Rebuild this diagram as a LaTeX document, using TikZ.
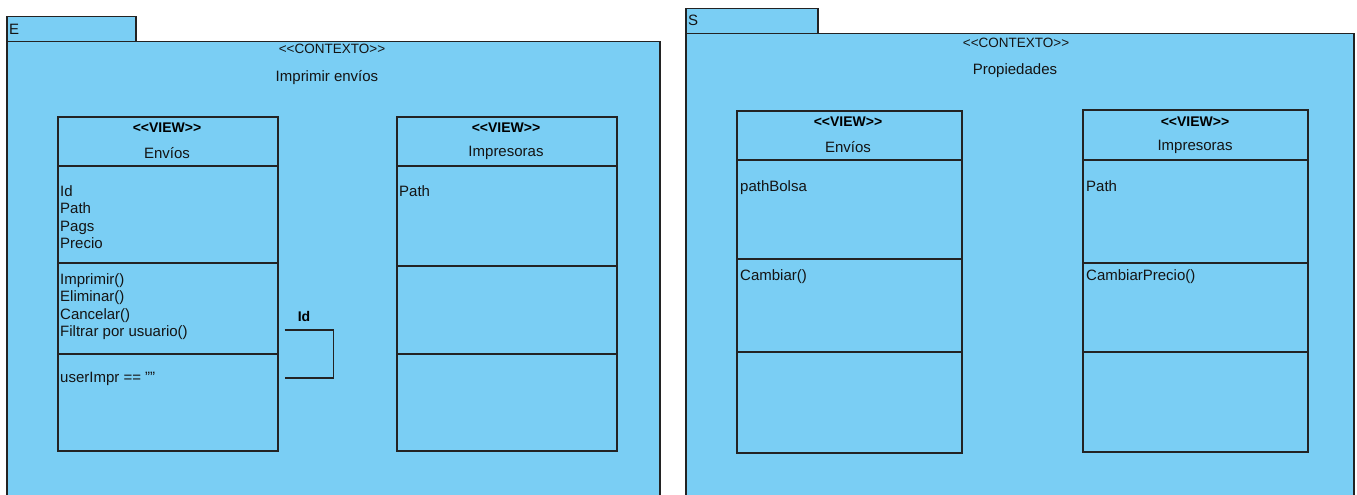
\documentclass[tikz,border=0pt]{standalone}
\usepackage{fontspec}
\setmainfont{Liberation Sans}
\definecolor{pk}{RGB}{122,206,244}
\definecolor{ln}{RGB}{35,35,35}
\definecolor{tx}{RGB}{20,20,20}
\newcommand{\ltlt}{{<}{<}}
\newcommand{\gtgt}{{>}{>}}
\begin{document}
\begin{tikzpicture}[x=1pt,y=-1pt,
  box/.style={draw=ln, fill=pk, line width=1.5pt, inner sep=0, anchor=north west},
  txt/.style={inner sep=0, anchor=north west, align=left, text=tx, font=\fontsize{15}{17.5}\selectfont},
  ctr/.style={inner sep=0, text=tx, font=\fontsize{15}{17.5}\selectfont},
  stereo/.style={inner sep=0, text=tx, font=\fontsize{13.5}{16}\selectfont},
  view/.style={inner sep=0, text=black, font=\bfseries\fontsize{14}{16}\selectfont},
  sep/.style={draw=ln, line width=1.5pt},
  conn/.style={draw=ln, line width=1.5pt}]
\useasboundingbox (0,0) rectangle (1357,495);
% ---------- package E ----------
\node[box, minimum width=653, minimum height=470] (bodyE) at (6,41) {};
\node[box, minimum width=129, minimum height=25] (tabE) at (6,16) {};
\node[ctr, anchor=west] (lblE) at (9,29) {E};
\node[stereo] (stE) at (332,49) {\ltlt CONTEXTO\gtgt};
\node[ctr] (nmE) at (327,78) {Imprimir envíos};
% class Envios (left)
\node[box, minimum width=220, minimum height=334] (envL) at (57,116) {};
\draw[sep] ([yshift=-50pt]envL.north west) -- ([yshift=-50pt]envL.north east);
\draw[sep] ([yshift=-147pt]envL.north west) -- ([yshift=-147pt]envL.north east);
\draw[sep] ([yshift=-238pt]envL.north west) -- ([yshift=-238pt]envL.north east);
\node[view] (envLv) at (167,128) {\ltlt VIEW\gtgt};
\node[ctr] (envLn) at (167,153) {Envíos};
\node[txt] (envLa) at (60,185) {Id\\Path\\Pags\\Precio};
\node[txt] (envLm) at (60,273) {Imprimir()\\Eliminar()\\Cancelar()\\Filtrar por usuario()};
\node[txt] (envLc) at (60,372) {userImpr == "{}"};
% self loop
\coordinate (la) at ([shift={(6,46)}]envL.east);
\coordinate (lb) at ([shift={(6,94)}]envL.east);
\draw[conn] (la) -- ++(49,0) |- (lb);
\node[view] (idlbl) at (304,316) {Id};
% class Impresoras (left)
\node[box, minimum width=220, minimum height=334] (impL) at (396,116) {};
\draw[sep] ([yshift=-50pt]impL.north west) -- ([yshift=-50pt]impL.north east);
\draw[sep] ([yshift=-150pt]impL.north west) -- ([yshift=-150pt]impL.north east);
\draw[sep] ([yshift=-238pt]impL.north west) -- ([yshift=-238pt]impL.north east);
\node[view] (impLv) at (506,128) {\ltlt VIEW\gtgt};
\node[ctr] (impLn) at (506,153) {Impresoras};
\node[txt] (impLa) at (399,185) {Path};
% ---------- package S ----------
\node[box, minimum width=668, minimum height=470] (bodyS) at (685,33) {};
\node[box, minimum width=132, minimum height=25] (tabS) at (685,8) {};
\node[ctr, anchor=west] (lblS) at (688,20) {S};
\node[stereo] (stS) at (1016,43) {\ltlt CONTEXTO\gtgt};
\node[ctr] (nmS) at (1015,71) {Propiedades};
% class Envios (right)
\node[box, minimum width=225, minimum height=342] (envR) at (736,110) {};
\draw[sep] ([yshift=-50pt]envR.north west) -- ([yshift=-50pt]envR.north east);
\draw[sep] ([yshift=-149pt]envR.north west) -- ([yshift=-149pt]envR.north east);
\draw[sep] ([yshift=-242pt]envR.north west) -- ([yshift=-242pt]envR.north east);
\node[view] (envRv) at (848,122) {\ltlt VIEW\gtgt};
\node[ctr] (envRn) at (848,147) {Envíos};
\node[txt] (envRa) at (740,180) {pathBolsa};
\node[txt] (envRm) at (740,269) {Cambiar()};
% class Impresoras (right)
\node[box, minimum width=225, minimum height=342] (impR) at (1082,109) {};
\draw[sep] ([yshift=-51pt]impR.north west) -- ([yshift=-51pt]impR.north east);
\draw[sep] ([yshift=-154pt]impR.north west) -- ([yshift=-154pt]impR.north east);
\draw[sep] ([yshift=-243pt]impR.north west) -- ([yshift=-243pt]impR.north east);
\node[view] (impRv) at (1195,122) {\ltlt VIEW\gtgt};
\node[ctr] (impRn) at (1195,147) {Impresoras};
\node[txt] (impRa) at (1086,180) {Path};
\node[txt] (impRm) at (1086,269) {CambiarPrecio()};
\end{tikzpicture}
\end{document}
